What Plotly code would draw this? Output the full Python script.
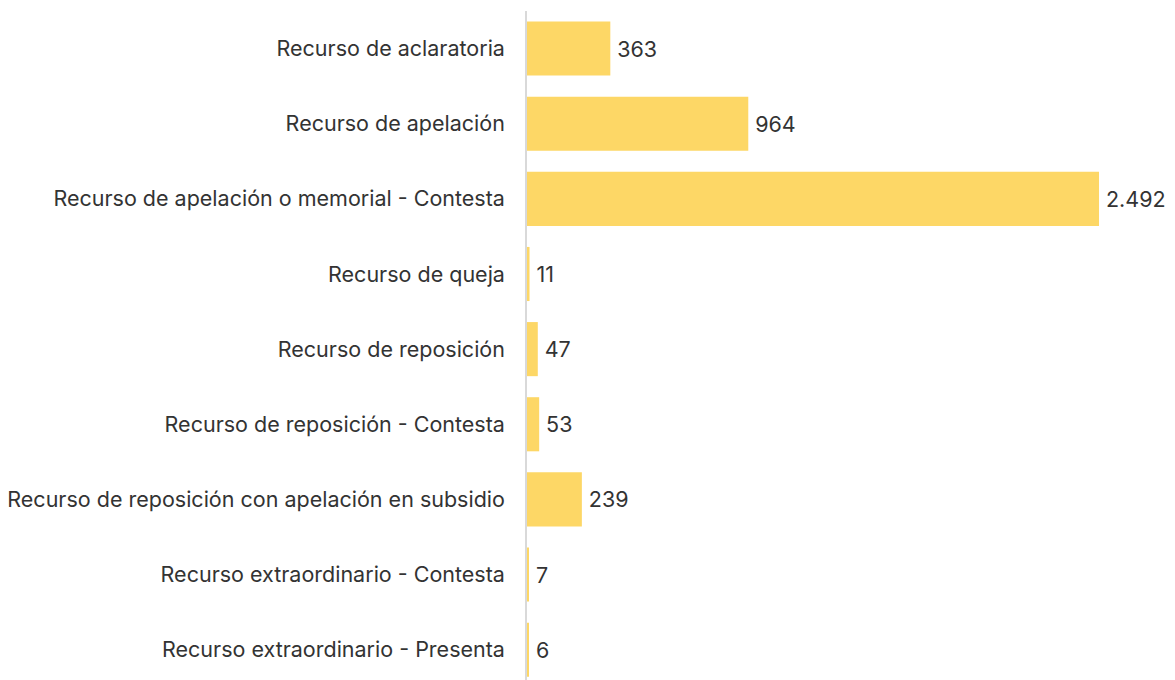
import plotly.graph_objects as go

categories = [
    "Recurso de aclaratoria",
    "Recurso de apelación",
    "Recurso de apelación o memorial - Contesta",
    "Recurso de queja",
    "Recurso de reposición",
    "Recurso de reposición - Contesta",
    "Recurso de reposición con apelación en subsidio",
    "Recurso extraordinario - Contesta",
    "Recurso extraordinario - Presenta",
]
values = [363, 964, 2492, 11, 47, 53, 239, 7, 6]
labels = ["\u2009" + f"{v:,}".replace(",", ".") for v in values]

FONT = "Inter"
SIZE = 21.5

fig = go.Figure(go.Bar(
    x=values, y=categories, orientation="h",
    marker=dict(color="#FDD766", line=dict(width=0)),
    text=labels, textposition="outside", cliponaxis=False,
    textfont=dict(family=FONT, size=SIZE, color="#333333"),
))

fig.update_layout(
    width=1167, height=680,
    margin=dict(l=519, r=0, t=3, b=0),
    plot_bgcolor="white", paper_bgcolor="white",
    bargap=0.28, showlegend=False,
    font=dict(family=FONT, size=SIZE, color="#333333"),
)
fig.update_xaxes(range=[0, 2823], visible=False)
fig.update_yaxes(
    type="category", range=[8.51, -0.5],
    showline=True, linecolor="#d9d9d9", linewidth=1.5,
    showgrid=False, ticks="", ticklabelstandoff=16,
    tickfont=dict(family=FONT, size=SIZE, color="#333333"),
)
fig.write_html("out.html")
